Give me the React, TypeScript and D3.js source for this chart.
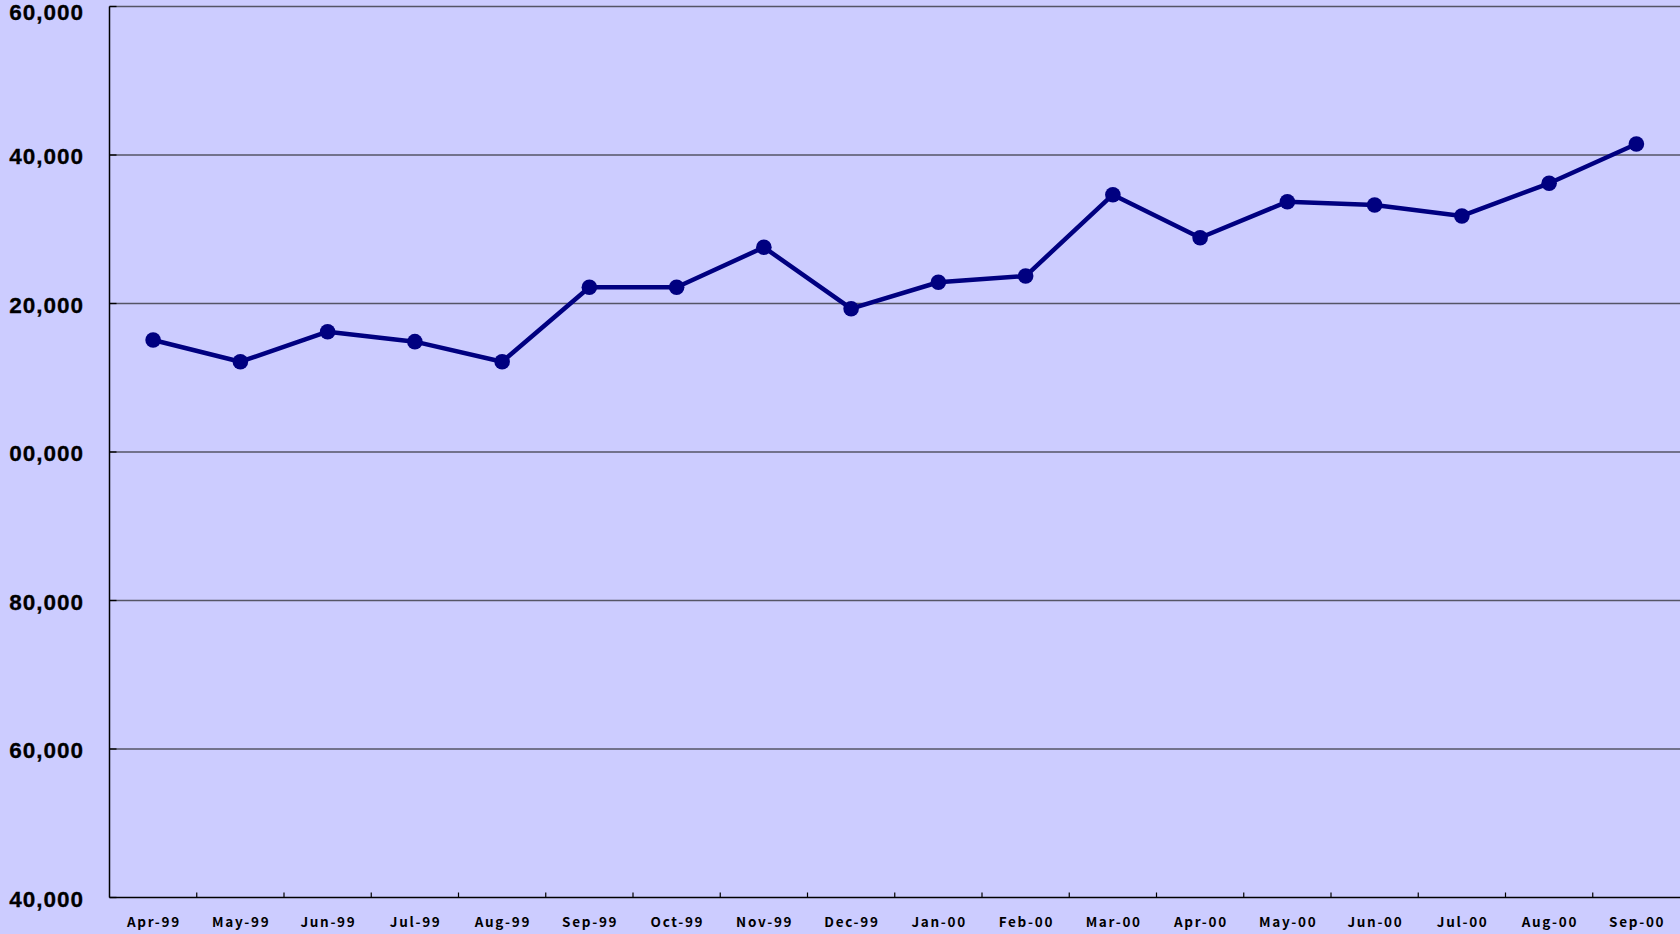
import React from "react";
import * as d3 from "d3";

const months = [
  "Apr-99", "May-99", "Jun-99", "Jul-99", "Aug-99", "Sep-99", "Oct-99", "Nov-99", "Dec-99",
  "Jan-00", "Feb-00", "Mar-00", "Apr-00", "May-00", "Jun-00", "Jul-00", "Aug-00", "Sep-00",
];
const values = [
  115080, 112160, 116200, 114860, 112160, 122180, 122180, 127570, 119300,
  122860, 123700, 134650, 128860, 133710, 133270, 131790, 136190, 141480,
];
const yTicks = [40000, 60000, 80000, 100000, 120000, 140000, 160000];
// labels as they appear in the image (leading digit clipped by the page edge)
const yTickLabels = ["40,000", "60,000", "80,000", "00,000", "20,000", "40,000", "60,000"];

const W = 1680;
const H = 934;
const M = { left: 109.5, right: 0, top: 6.5, bottom: 36.5 };

export default function App() {
  const x = d3
    .scaleBand<string>()
    .domain(months)
    .range([M.left, W - M.right])
    .paddingInner(0)
    .paddingOuter(0);
  const y = d3.scaleLinear().domain([40000, 160000]).range([H - M.bottom, M.top]);

  const line = d3
    .line<number>()
    .x((_, i) => (x(months[i]) as number) + x.bandwidth() / 2)
    .y((d) => y(d));

  const bw = x.bandwidth();
  const axisY = y(40000);

  return (
    <div style={{ position: "fixed", left: 0, top: 0, width: W, height: H, background: "#CCCCFF" }}>
      <svg width={W} height={H} style={{ display: "block" }}>
        <rect x={0} y={0} width={W} height={H} fill="#CCCCFF" />
        {yTicks.slice(1).map((t) => (
          <line key={t} x1={M.left} x2={W} y1={y(t)} y2={y(t)} stroke="#555566" strokeWidth={1.3} />
        ))}
        {yTicks.map((t) => (
          <line key={"yt" + t} x1={M.left} x2={M.left + 7} y1={y(t)} y2={y(t)} stroke="#000" strokeWidth={1.3} />
        ))}
        <line x1={M.left} x2={M.left} y1={M.top} y2={axisY} stroke="#000" strokeWidth={1.5} />
        <line x1={M.left} x2={W} y1={axisY} y2={axisY} stroke="#000" strokeWidth={1.5} />
        {months.slice(1).map((m) => (
          <line
            key={"xt" + m}
            x1={x(m) as number}
            x2={x(m) as number}
            y1={axisY}
            y2={axisY - 5}
            stroke="#000"
            strokeWidth={1.2}
          />
        ))}
        {yTicks.map((t, i) => (
          <text
            key={"yl" + t}
            x={84}
            y={Math.max(y(t), 10.5) + 1.5}
            textAnchor="end"
            dominantBaseline="central"
            fontFamily="'Liberation Sans', Arial, sans-serif"
            fontWeight="bold"
            fontSize={22.5}
            letterSpacing={1}
            fill="#000"
            stroke="#000"
            strokeWidth={0.3}
          >
            {yTickLabels[i]}
          </text>
        ))}
        {months.map((m) => (
          <text
            key={"xl" + m}
            x={(x(m) as number) + bw / 2 + 0.8}
            y={927}
            textAnchor="middle"
            fontFamily="'Noto Sans CJK JP', 'DejaVu Sans', sans-serif"
            fontWeight="bold"
            fontSize={13.5}
            letterSpacing={1.7}
            fill="#000"
          >
            {m}
          </text>
        ))}
        <path d={line(values) || ""} fill="none" stroke="#000080" strokeWidth={4.5} strokeLinejoin="round" />
        {values.map((v, i) => (
          <circle
            key={"c" + i}
            cx={(x(months[i]) as number) + bw / 2}
            cy={y(v)}
            r={7.8}
            fill="#000080"
          />
        ))}
      </svg>
    </div>
  );
}
